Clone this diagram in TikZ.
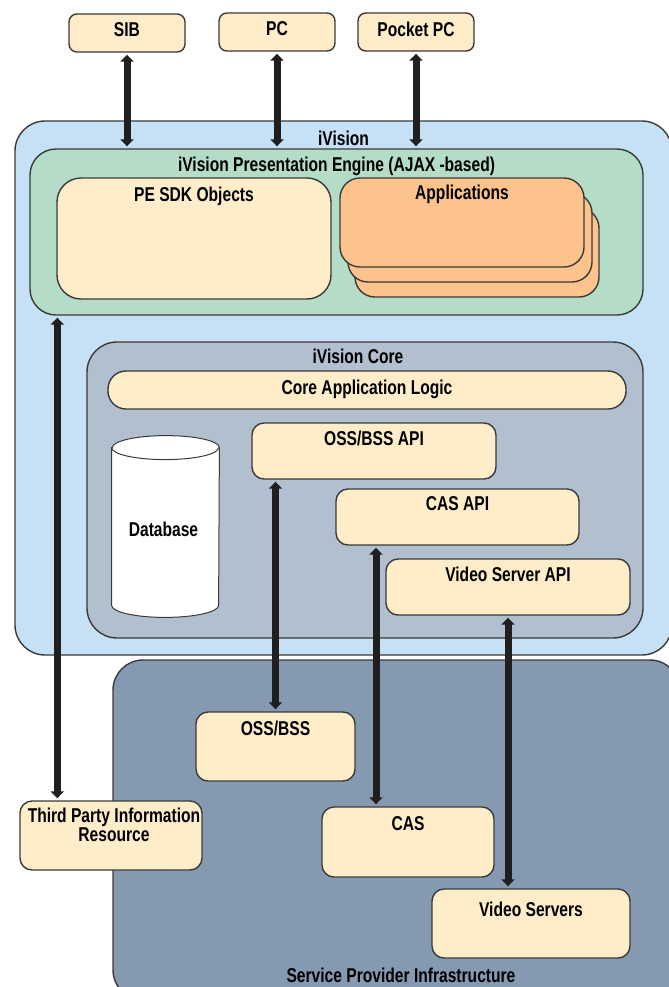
\documentclass[tikz,border=0pt]{standalone}
\usepackage{fontspec}
\newfontfamily\diagfont{Liberation Sans}[FakeStretch=0.78]
\usepackage{tikz}
\usetikzlibrary{arrows.meta}
\definecolor{colorCream}{HTML}{FFEDC9}
\definecolor{colorSky}{HTML}{C6E1F6}
\definecolor{colorMint}{HTML}{B5DCC7}
\definecolor{colorSlate}{HTML}{B2BFCF}
\definecolor{colorSteel}{HTML}{8599B1}
\definecolor{colorPeach}{HTML}{FDC38D}
\definecolor{colorEdge}{HTML}{3A3A3A}

\begin{document}
\begin{tikzpicture}[x=0.5pt, y=-0.5pt,
		font=\diagfont\bfseries\fontsize{10}{11}\selectfont,
		box/.style={draw=colorEdge, line width=0.7pt, fill=colorCream, rounded corners=4pt, inner sep=0pt},
		area/.style={draw=colorEdge, line width=0.7pt, rounded corners=15pt, inner sep=0pt},
		link/.style={line width=3.5pt, draw=black!88, {Triangle[length=3.5pt,width=6.5pt]}-{Triangle[length=3.5pt,width=6.5pt]}, shorten <=1pt, shorten >=1pt},
		dbline/.style={draw=colorEdge, line width=0.5pt},
	]
		\clip (0,0) rectangle (669,987);
		%
		\node[area, fill=colorSky, minimum width=328.5pt, minimum height=267pt] (ivision) at (343.5,388) {};
		\node[below=2pt] (ivision title) at (ivision.north) {iVision};
		\node[area, fill=colorMint, rounded corners=13pt, minimum width=306.5pt, minimum height=83pt] (pe) at (336.5,232) {};
		\node[below=1pt] (pe title) at (pe.north) {iVision Presentation Engine (AJAX -based)};
		\node[box, rounded corners=12pt, minimum width=137pt, minimum height=60.5pt] (sdk) at (194,238.5) {};
		\node[below=1.5pt] (sdk title) at (sdk.north) {PE SDK Objects};
		\node[box, fill=colorPeach, rounded corners=10pt, minimum width=122pt, minimum height=44.5pt] (app3) at (477,252.5) {};
		\node[box, fill=colorPeach, rounded corners=10pt, minimum width=122pt, minimum height=44.5pt] (app2) at (470,237.5) {};
		\node[box, fill=colorPeach, rounded corners=10pt, minimum width=122pt, minimum height=44.5pt] (app1) at (462,222.5) {};
		\node[below=0.5pt] (app title) at (app1.north) {Applications};
		%
		\node[area, fill=colorSlate, minimum width=278pt, minimum height=148pt] (core) at (365,490) {};
		\node[below=0.5pt, xshift=-3.5pt] (core title) at (core.north) {iVision Core};
		\node[box, rounded corners=9pt, minimum width=259pt, minimum height=19pt, text depth=3pt] (logic) at (367,390) {Core Application Logic};
		\node[box, rounded corners=6pt, minimum width=122pt, minimum height=28pt] (ossapi) at (374,451) {};
		\node[below=1pt] (ossapi title) at (ossapi.north) {OSS/BSS API};
		\node[box, rounded corners=6pt, minimum width=121.5pt, minimum height=28pt] (casapi) at (457.5,517) {};
		\node[below=0.5pt] (casapi title) at (casapi.north) {CAS API};
		\node[box, rounded corners=6pt, minimum width=122pt, minimum height=28pt] (vsapi) at (508,587) {};
		\node[below=1pt] (vsapi title) at (vsapi.north) {Video Server API};
		\node[inner sep=0pt, minimum width=53.5pt, minimum height=90.5pt] (db) at (165.5,526.5) {};
		\filldraw[dbline, fill=white] ([yshift=-6pt]db.north west) -- ([yshift=6pt]db.south west)
			arc[start angle=180, end angle=360, x radius=26.75pt, y radius=6pt]
			-- ([yshift=-6pt]db.north east)
			arc[start angle=0, end angle=180, x radius=26.75pt, y radius=6pt] -- cycle;
		\draw[dbline] ([yshift=-6pt]db.north west) arc[start angle=180, end angle=360, x radius=26.75pt, y radius=6pt];
		\node[yshift=-1.5pt, xshift=-1pt] (db title) at (db.center) {Database};
		%
		\node[area, fill=colorSteel, minimum width=283.5pt, minimum height=170pt] (spi) at (396.5,830) {};
		\node (spi title) at (401,975) {Service Provider Infrastructure};
		\node[box, rounded corners=6pt, minimum width=79.5pt, minimum height=34.5pt] (oss) at (275.5,746.5) {};
		\node[below=1.5pt] (oss title) at (oss.north) {OSS/BSS};
		\node[box, rounded corners=6pt, minimum width=91pt, minimum height=34.5pt] (tpir) at (111,835.5) {};
		\node[below=0.5pt, xshift=1.5pt, align=center, font=\diagfont\bfseries\fontsize{10}{9.5}\selectfont] (tpir title) at (tpir.north) {Third Party Information\\Resource};
		\node[box, rounded corners=6pt, minimum width=86pt, minimum height=35pt] (cas) at (408,842) {};
		\node[below=1.5pt] (cas title) at (cas.north) {CAS};
		\node[box, rounded corners=6pt, minimum width=99pt, minimum height=34.5pt] (vs) at (531,923.5) {};
		\node[below=3.5pt] (vs title) at (vs.north) {Video Servers};
		%
		\node[box, minimum width=58pt, minimum height=19pt, text depth=3pt] (sib) at (127,33) {SIB};
		\node[box, minimum width=58pt, minimum height=19pt, text depth=3pt] (pc) at (277,32) {PC};
		\node[box, minimum width=58pt, minimum height=19pt, text depth=3pt] (ppc) at (416,32) {Pocket PC};
		%
		\draw[link] (sib.south) to (sib.south |- pe.north);
		\draw[link] (pc.south) to (pc.south |- pe.north);
		\draw[link] (ppc.south) to (ppc.south |- pe.north);
		%
		\coordinate (tpir top) at ([xshift=19pt]tpir.north west);
		\coordinate (cas top) at ([xshift=-16pt]cas.north);
		\coordinate (vs top) at ([xshift=-11.5pt]vs.north);
		\draw[link] (pe.south -| tpir top) to (tpir top);
		\draw[link] (oss.north |- ossapi.south) to (oss.north);
		\draw[link] (cas top |- casapi.south) to (cas top);
		\draw[link] (vs top |- vsapi.south) to (vs top);
	\end{tikzpicture}
\end{document}
